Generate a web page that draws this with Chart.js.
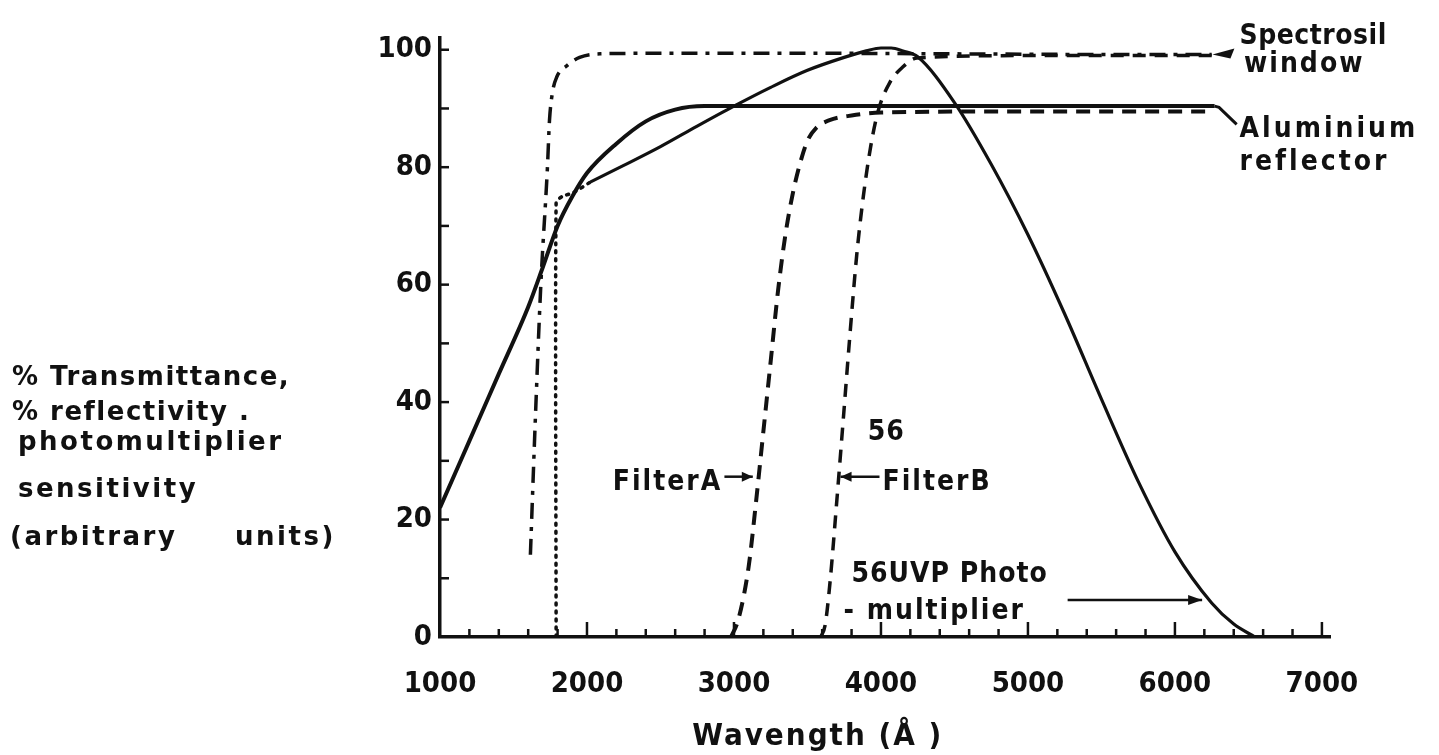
<!DOCTYPE html>
<html>
<head>
<meta charset="utf-8">
<script src="https://cdn.jsdelivr.net/npm/chart.js@4"></script>
<style>
  html, body { margin: 0; padding: 0; background: #ffffff; }
  #wrap { width: 1439px; height: 755px; position: relative; }
</style>
</head>
<body>
<div id="wrap"><canvas id="c"></canvas></div>
<script>
// ---- Data (wavelength in Å, value in %) ----
const aluminiumWl  = [1000, 1200, 1400, 1600, 1700, 1800, 1900, 2000, 2200, 2400, 2600, 2800, 3000, 4000, 5000, 6000, 6270];
const aluminiumVal = [22,   33.4, 44.8, 56.2, 63,   70,   75,   79,   84,   87.8, 89.8, 90.4, 90.4, 90.4, 90.4, 90.4, 90.4];

const pmDottedWl  = [1790, 1790, 1830, 1910, 2025];
const pmDottedVal = [0,    74,   75,   75.7, 77.5];

const pmWl  = [2025, 2250, 2500, 2750, 3000, 3250, 3500, 3750, 3900, 4000, 4070, 4150, 4250, 4500, 4750, 5000, 5250, 5500, 5750, 6000, 6250, 6400, 6545];
const pmVal = [77.5, 80.3, 83.5, 87,   90.4, 93.6, 96.5, 98.7, 99.8, 100.3, 100.3, 99.8, 98.8, 91,  80.5, 68.5, 55,   40.5, 26.5, 14.5, 5.8,  2.2,  0];

const spectrosilWl  = [1615, 1650, 1686, 1731, 1745, 1765, 1795, 1864, 1950, 2090, 2500, 3500, 4500, 5500, 6250];
const spectrosilVal = [14,   38,   60,   80,   88,   92.7, 95.4, 97.3, 98.7, 99.3, 99.4, 99.4, 99.3, 99.2, 99.2];

const filterAWl  = [2980, 3030, 3100, 3150, 3200, 3250, 3300, 3350, 3400, 3450, 3500, 3560, 3650, 3800, 4000, 5000, 6250];
const filterAVal = [0,    3,    12,   23,   35,   47,   59,   68.5, 75.5, 80.7, 84.5, 86.7, 88,   88.8, 89.3, 89.5, 89.5];

const filterBWl  = [3590, 3620, 3653, 3700, 3745, 3790, 3835, 3880, 3930, 3980, 4060, 4150, 4245, 5000, 6250];
const filterBVal = [0,    2,    9.2,  23.3, 37.5, 51.8, 65,   75,   83.5, 89.5, 94.4, 97.1, 98.6, 99,   99];

const xTickLabels = [1000, 2000, 3000, 4000, 5000, 6000, 7000];
const yTickLabels = [0, 20, 40, 60, 80, 100];

const yTitleLines = ['% Transmittance,', '% reflectivity .', 'photomultiplier', 'sensitivity', '(arbitrary     units)'];
const xTitle = 'Wavength (Å )';

// ---- helpers ----
const INK = '#111111';
const FONT = '"DejaVu Sans", "Liberation Sans", sans-serif';
const CFONT = '"DejaVu Sans Condensed", "DejaVu Sans", sans-serif';
const pts = (xs, ys) => xs.map((x, i) => ({ x: x, y: ys[i] }));

function drawText(ctx, s, x, y, size, spacing, align, family) {
  ctx.save();
  ctx.font = 'bold ' + size + 'px ' + (family || CFONT);
  try { ctx.letterSpacing = (spacing || 0) + 'px'; } catch (e) {}
  ctx.fillStyle = INK;
  ctx.textAlign = align || 'left';
  ctx.textBaseline = 'alphabetic';
  ctx.fillText(s, x, y);
  ctx.restore();
}
function arrow(ctx, x1, y1, x2, y2, head) {
  ctx.save();
  ctx.strokeStyle = INK; ctx.fillStyle = INK; ctx.lineWidth = 2.5;
  ctx.beginPath(); ctx.moveTo(x1, y1); ctx.lineTo(x2, y2); ctx.stroke();
  const a = Math.atan2(y2 - y1, x2 - x1);
  const h = head || 12;
  ctx.beginPath();
  ctx.moveTo(x2, y2);
  ctx.lineTo(x2 - h * Math.cos(a) + 5 * Math.sin(a), y2 - h * Math.sin(a) - 5 * Math.cos(a));
  ctx.lineTo(x2 - h * Math.cos(a) - 5 * Math.sin(a), y2 - h * Math.sin(a) + 5 * Math.cos(a));
  ctx.closePath(); ctx.fill();
  ctx.restore();
}

const decorations = {
  id: 'decorations',
  afterDatasetsDraw(chart) {
    const ctx = chart.ctx;
    const xs = chart.scales.x, ys = chart.scales.y;
    const X = v => xs.getPixelForValue(v), Y = v => ys.getPixelForValue(v);
    const area = chart.chartArea;

    // inward tick marks
    ctx.save();
    ctx.strokeStyle = INK; ctx.lineWidth = 2.5;
    for (let w = 1200; w <= 7000; w += 200) {
      const len = (w % 1000 === 0) ? 15 : 8;
      ctx.beginPath(); ctx.moveTo(X(w), area.bottom); ctx.lineTo(X(w), area.bottom - len); ctx.stroke();
    }
    for (let v = 10; v <= 100; v += 10) {
      ctx.beginPath(); ctx.moveTo(area.left, Y(v)); ctx.lineTo(area.left + 9, Y(v)); ctx.stroke();
    }
    ctx.restore();

    // Spectrosil window label + arrowhead
    ctx.save();
    ctx.fillStyle = INK;
    const sx = X(6255), sy = Y(99.2);
    ctx.beginPath(); ctx.moveTo(sx, sy); ctx.lineTo(sx + 22, sy - 6); ctx.lineTo(sx + 18, sy + 4); ctx.closePath(); ctx.fill();
    ctx.restore();
    drawText(ctx, 'Spectrosil', X(6440), Y(100.9), 28, 0.5);
    drawText(ctx, 'window', X(6470), Y(96.2), 28, 2);

    // Aluminium reflector leader + label
    ctx.save();
    ctx.strokeStyle = INK; ctx.lineWidth = 3;
    ctx.beginPath(); ctx.moveTo(X(6270), Y(90.4)); ctx.lineTo(X(6300), Y(90.2)); ctx.lineTo(X(6420), Y(87.3)); ctx.stroke();
    ctx.restore();
    drawText(ctx, 'Aluminium', X(6440), Y(85.2), 28, 3);
    drawText(ctx, 'reflector', X(6440), Y(79.6), 28, 3);

    // Filter labels
    drawText(ctx, 'FilterA', X(2920), Y(25), 28, 2, 'right');
    arrow(ctx, X(2935), Y(27.3), X(3128), Y(27.3), 11);
    arrow(ctx, X(3990), Y(27.3), X(3725), Y(27.3), 11);
    drawText(ctx, 'FilterB', X(4010), Y(25), 28, 2);
    drawText(ctx, '56', X(3910), Y(33.5), 28, 1);

    // Photomultiplier label
    drawText(ctx, '56UVP Photo', X(3800), Y(9.4), 28, 1);
    drawText(ctx, '- multiplier', X(3745), Y(3.0), 28, 2);
    arrow(ctx, X(5270), Y(6.3), X(6185), Y(6.3), 14);

    // axis titles
    const lineY = [385, 420, 450, 497, 545];
    const lineX = [12, 12, 18, 18, 10];
    const lineSp = [1.5, 1.5, 2.5, 2.5, 2.5];
    yTitleLines.forEach((s, i) => drawText(ctx, s, lineX[i], lineY[i], 26, lineSp[i], 'left', FONT));
    drawText(ctx, xTitle, X(3570), area.bottom + 108, 31, 2, 'center');
  }
};

new Chart(document.getElementById('c'), {
  type: 'line',
  data: {
    datasets: [
      { label: 'Aluminium reflector', data: pts(aluminiumWl, aluminiumVal), borderColor: INK, borderWidth: 4, cubicInterpolationMode: 'monotone', pointRadius: 0 },
      { label: '56UVP photomultiplier (dotted)', data: pts(pmDottedWl, pmDottedVal), borderColor: INK, borderWidth: 3.5, borderDash: [2, 6], borderCapStyle: 'round', tension: 0.2, pointRadius: 0 },
      { label: '56UVP photomultiplier', data: pts(pmWl, pmVal), borderColor: INK, borderWidth: 3.2, cubicInterpolationMode: 'monotone', pointRadius: 0 },
      { label: 'Spectrosil window', data: pts(spectrosilWl, spectrosilVal), borderColor: INK, borderWidth: 3.5, borderDash: [16, 8, 4, 8], cubicInterpolationMode: 'monotone', pointRadius: 0 },
      { label: 'Filter A', data: pts(filterAWl, filterAVal), borderColor: INK, borderWidth: 4, borderDash: [14, 9], cubicInterpolationMode: 'monotone', pointRadius: 0 },
      { label: 'Filter B', data: pts(filterBWl, filterBVal), borderColor: INK, borderWidth: 3.5, borderDash: [13, 9], cubicInterpolationMode: 'monotone', pointRadius: 0 }
    ]
  },
  options: {
    responsive: true,
    maintainAspectRatio: false,
    animation: false,
    devicePixelRatio: 1,
    layout: { padding: { top: 38, right: 109, left: 0, bottom: 0 } },
    plugins: { legend: { display: false }, tooltip: { enabled: false }, title: { display: false } },
    scales: {
      x: {
        type: 'linear',
        min: 1000, max: 7055,
        grid: { display: false, drawTicks: false },
        border: { display: true, color: INK, width: 3.5 },
        afterFit(scale) { scale.height = 118; },
        afterBuildTicks(scale) { scale.ticks = xTickLabels.map(v => ({ value: v })); },
        ticks: {
          padding: 30, color: INK, maxRotation: 0, autoSkip: false,
          font: { family: CFONT, size: 29, weight: 'bold' },
          callback: v => String(v)
        }
      },
      y: {
        type: 'linear',
        min: 0, max: 102,
        grid: { display: false, drawTicks: false },
        border: { display: true, color: INK, width: 3.5 },
        afterFit(scale) { scale.width = 440; },
        afterBuildTicks(scale) { scale.ticks = yTickLabels.map(v => ({ value: v })); },
        ticks: {
          padding: 8, color: INK,
          font: { family: CFONT, size: 29, weight: 'bold' },
          callback: v => String(v)
        }
      }
    }
  },
  plugins: [decorations]
});
</script>
</body>
</html>
